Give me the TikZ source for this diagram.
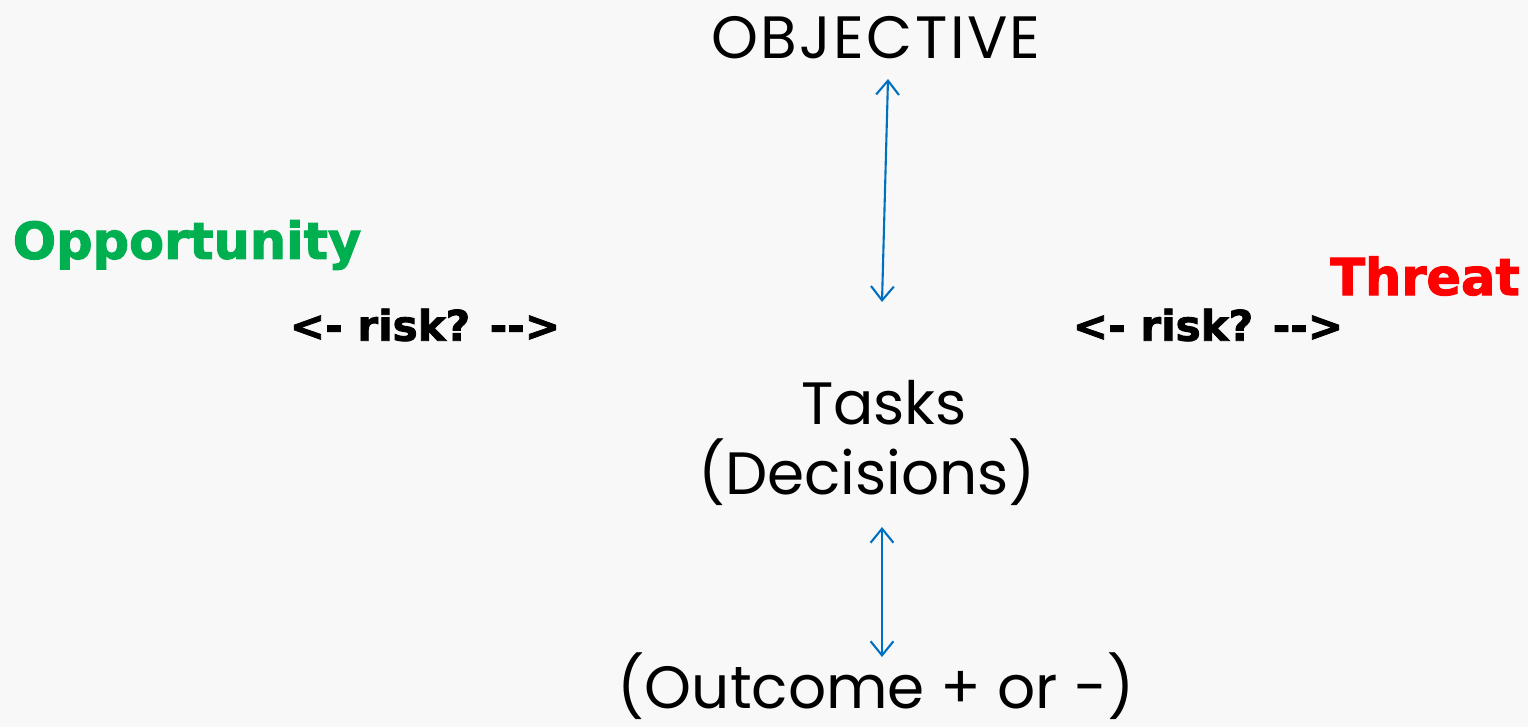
\documentclass[tikz,border=0pt]{standalone}
\usepackage{fontspec}
\setmainfont{Poppins}
\newfontfamily\heavyfont{DejaVu Sans}[BoldFeatures={FakeBold=2}]
\usetikzlibrary{arrows.meta}
\definecolor{bgcol}{HTML}{F8F8F8}
\definecolor{linkblue}{HTML}{0070C0}
\definecolor{oppgreen}{HTML}{00B050}
\begin{document}
\begin{tikzpicture}[
  x=0.02cm, y=-0.02cm,
  title/.style={font=\fontsize{34}{40}\selectfont, inner sep=0pt},
  heavy/.style={font=\heavyfont\bfseries\fontsize{29}{34}\selectfont, inner sep=0pt},
  riskmark/.style={font=\heavyfont\bfseries\fontsize{24}{28}\selectfont, inner sep=0pt},
  link/.style={linkblue, line width=1.2pt, {Straight Barb[length=8pt,width=13pt]}-{Straight Barb[length=8pt,width=13pt]}}
]
\fill[bgcol] (0,0) rectangle (1528,727);
\useasboundingbox (0,0) rectangle (1528,727);

\node[title] (objective) at (876,38) {\addfontfeatures{LetterSpace=4}OBJECTIVE};
\node[title] (tasks) at (884,403) {Tasks};
\node[title] (decisions) at (867,472) {(Decisions)};
\node[title] (outcome) at (876,686) {(Outcome + or -)};

\node[heavy, oppgreen] (opportunity) at (187,245) {Opportunity};
\node[heavy, red] (threat) at (1425,276) {Threat};
\node[riskmark] (riskleft) at (425,325) {<- risk? -->};
\node[riskmark] (riskright) at (1208,325) {<- risk? -->};

% Arrows
\coordinate (topend) at (888,79);
\coordinate (midend) at (882,302);
\coordinate (lowtop) at (882,527);
\coordinate (lowend) at (882,657);
\draw[link] (topend) -- (midend);
\draw[link] (lowtop) -- (lowend);
\end{tikzpicture}
\end{document}
